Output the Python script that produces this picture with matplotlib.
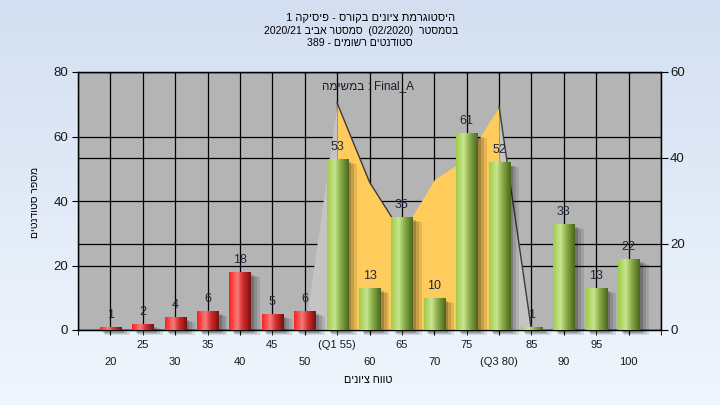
import re
import numpy as np
import matplotlib
matplotlib.use("Agg")
import matplotlib.pyplot as plt
from matplotlib.colors import LinearSegmentedColormap
from matplotlib.patches import Rectangle

plt.rcParams['font.family'] = ['Liberation Sans', 'DejaVu Sans']

# values
grades = [20, 25, 30, 35, 40, 45, 50, 55, 60, 65, 70, 75, 80, 85, 90, 95, 100]
students = [1, 2, 4, 6, 18, 5, 6, 53, 13, 35, 10, 61, 52, 1, 33, 13, 22]
q1_grade = 55
q3_grade = 80

# background shape, drawn on the right axis
shape_grades = [50, 55, 60, 65, 70, 75, 80, 85]
shape_vals = [0, 52.8, 34.4, 22.5, 35, 40, 52, 0]

title_lines = ['היסטוגרמת ציונים בקורס - פיסיקה 1',
               'בסמסטר  (02/2020)  סמסטר אביב 2020/21',
               'סטודנטים רשומים - 389']
task_label = 'Final_A : במשימה'
y_label = 'מספר סטודנטים'
x_label = 'טווח ציונים'


def heb(s):
    # no bidi in matplotlib: flip token order, flip the hebrew runs, keep numbers/latin
    tokens = re.findall(r'[\u0590-\u05FF]+|\s+|[^\s\u0590-\u05FF]+', s)
    out = []
    for t in reversed(tokens):
        out.append(t[::-1] if re.match(r'[\u0590-\u05FF]', t) else t)
    return ''.join(out)


idx = np.arange(len(grades))
pos = {g: i for i, g in enumerate(grades)}

fig = plt.figure(figsize=(7.2, 4.05), dpi=100)

# light blue background gradient
bg = fig.add_axes([0, 0, 1, 1], zorder=-10)
bg_cmap = LinearSegmentedColormap.from_list('bg', ['#d3dff1', '#f0f6fd'])
bg.imshow(np.linspace(0, 1, 256)[:, None], aspect='auto', cmap=bg_cmap, extent=[0, 1, 0, 1])
bg.axis('off')

ax = fig.add_axes([78 / 720, 75 / 405, 583 / 720, 258 / 405])
ax2 = ax.twinx()
ax.set_zorder(2)
ax2.set_zorder(1)
ax.patch.set_visible(False)
ax2.patch.set_visible(True)
ax2.patch.set_facecolor('#b4b4b4')

ax.set_xlim(-1, 17)
ax.set_ylim(0, 80)
ax2.set_ylim(0, 60)

# grid
ax.set_axisbelow(True)
ax.set_yticks([0, 20, 40, 60, 80])
ax2.set_yticks([0, 20, 40, 60])
ax.grid(axis='y', color='black', lw=0.9)
ax.grid(axis='x', which='both', color='black', lw=0.9)
ax2.grid(axis='y', color='black', lw=0.9)

# background shape (yellow between Q1 and Q3, light grey outside)
xs = [pos[g] for g in shape_grades]
i1 = shape_grades.index(q1_grade)
i3 = shape_grades.index(q3_grade)
ax.fill_between(xs[i1:i3 + 1], shape_vals[i1:i3 + 1], 0, color='#ffcc5c', lw=0,
                transform=ax2.transData, zorder=1)
ax.fill_between(xs[:i1 + 1], shape_vals[:i1 + 1], 0, color='#c4c4c4', lw=0,
                transform=ax2.transData, zorder=1)
ax.fill_between(xs[i3:], shape_vals[i3:], 0, color='#c4c4c4', lw=0,
                transform=ax2.transData, zorder=1)
ax.plot(xs[i1:i1 + 3], shape_vals[i1:i1 + 3], color='#3a3a3a', lw=1.0,
        transform=ax2.transData, zorder=1.2)
ax.plot(xs[i3:], shape_vals[i3:], color='#3a3a3a', lw=1.0,
        transform=ax2.transData, zorder=1.2)

# bars, red below Q1, green from Q1 on
width = 0.65
red_cmap = LinearSegmentedColormap.from_list(
    'r', [(0, '#ff2020'), (0.38, '#f77a7a'), (0.62, '#d63030'), (1, '#781010')])
green_cmap = LinearSegmentedColormap.from_list(
    'g', [(0, '#9fcc4a'), (0.35, '#c8e690'), (0.62, '#8aae48'), (1, '#4a661e')])
grad = np.linspace(0, 1, 64)[None, :]

bars = ax.bar(idx, students, width=width, color='#999999', lw=0, zorder=3)
for g, b in zip(grades, bars):
    x0, h = b.get_x(), b.get_height()
    cm = red_cmap if g < q1_grade else green_cmap
    # soft drop shadow to the lower right
    for k, a in enumerate([0.10, 0.13, 0.18]):
        ax.add_patch(Rectangle((x0 + 0.17 - 0.03 * k, -1.6 + 0.3 * k), width + 0.06 * (2 - k), h,
                               color='black', alpha=a, lw=0, zorder=2.5, clip_on=False))
    im = ax.imshow(grad, cmap=cm, aspect='auto', extent=[x0, x0 + width, 0, h],
                   interpolation='bilinear', zorder=3.1)
    im.set_clip_path(b)
    ax.annotate(str(int(h)), (b.get_x() + width / 2, h), xytext=(0, 8.6),
                textcoords='offset points', ha='center', va='center',
                fontsize=9, color='#1c2640', zorder=5)

ax.set_xlim(-1, 17)
ax.set_ylim(0, 80)
ax2.set_ylim(0, 60)

# two rows of x labels
labels = [str(g) for g in grades]
labels[pos[q1_grade]] = f'(Q1 {q1_grade})'
labels[pos[q3_grade]] = f'(Q3 {q3_grade})'
ax.set_xticks(idx[::2], labels[::2])
ax.set_xticks([-1] + list(idx[1::2]) + [17], [''] + labels[1::2] + [''], minor=True)
ax.tick_params(axis='x', which='major', length=3.6, pad=15.5, labelsize=8, colors='#1a1a1a')
ax.tick_params(axis='x', which='minor', length=3.6, pad=3.4, labelsize=8, colors='#1a1a1a')
ax.tick_params(axis='x', which='both', color='black')
ax.tick_params(axis='y', length=4.3, pad=2.9, labelsize=9.5, labelcolor='#1a1a1a')
ax2.tick_params(axis='y', length=5, pad=1.5, labelsize=9.5, labelcolor='#1a1a1a')
for a in (ax, ax2):
    for s in a.spines.values():
        s.set_color('black')
        s.set_linewidth(0.9)

ax.text((368 - 78) / 583, (330 - 86) / 258, heb(task_label), transform=ax.transAxes,
        ha='center', va='center', fontsize=8.5, color='#1a1a2a', zorder=6)

# titles and axis labels
fig.text(371 / 720, 1 - 18 / 405, heb(title_lines[0]), ha='center', va='center', fontsize=8)
fig.text(361 / 720, 1 - 31 / 405, heb(title_lines[1]), ha='center', va='center', fontsize=7.6)
fig.text(360 / 720, 1 - 43 / 405, heb(title_lines[2]), ha='center', va='center', fontsize=7.6)
fig.text(35 / 720, 1 - 202 / 405, heb(y_label), rotation=90, ha='center', va='center', fontsize=7.5)
fig.text(368 / 720, 1 - 380 / 405, heb(x_label), ha='center', va='center', fontsize=7.8)

plt.savefig('out.png', dpi=100)
